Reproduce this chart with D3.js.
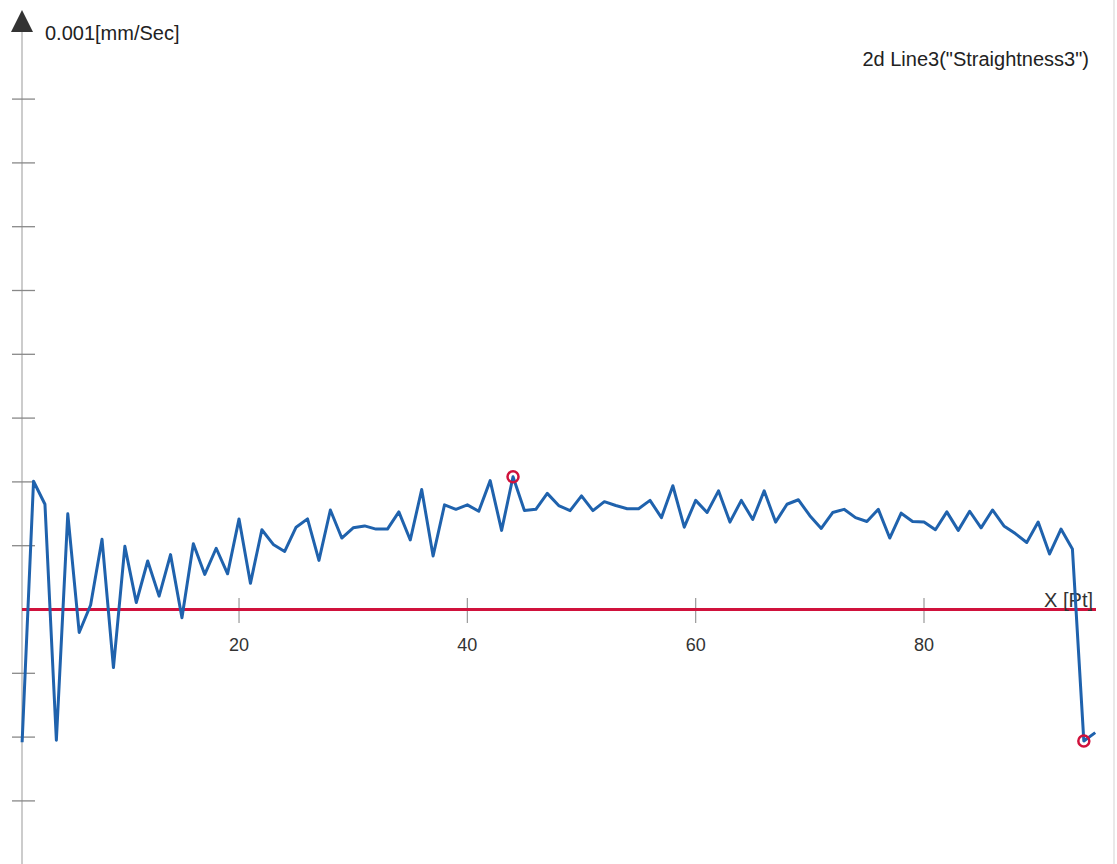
<!DOCTYPE html>
<html>
<head>
<meta charset="utf-8">
<script src="https://cdn.jsdelivr.net/npm/d3@7"></script>
<style>
  html, body { margin: 0; padding: 0; background: #fff; }
  svg { display: block; font-family: "Liberation Sans", Arial, sans-serif; }
</style>
</head>
<body>
<div id="chart"></div>
<script>
// Straightness3 profile, in y-tick units (one tick step per unit)
const straightness = [
  -2.08, 2.01, 1.65, -2.05, 1.50, -0.36, 0.07, 1.10, -0.91, 0.99,
  0.11, 0.76, 0.21, 0.86, -0.13, 1.03, 0.55, 0.96, 0.56, 1.42,
  0.41, 1.25, 1.02, 0.91, 1.29, 1.42, 0.77, 1.56, 1.12, 1.28,
  1.31, 1.26, 1.26, 1.53, 1.09, 1.88, 0.84, 1.64, 1.57, 1.64,
  1.54, 2.02, 1.24, 2.08, 1.55, 1.57, 1.82, 1.63, 1.55, 1.78,
  1.55, 1.69, 1.63, 1.58, 1.58, 1.71, 1.44, 1.94, 1.29, 1.71,
  1.52, 1.86, 1.37, 1.71, 1.41, 1.86, 1.37, 1.65, 1.72, 1.47,
  1.27, 1.52, 1.57, 1.44, 1.38, 1.57, 1.12, 1.51, 1.38, 1.37,
  1.25, 1.53, 1.24, 1.54, 1.28, 1.56, 1.31, 1.19, 1.05, 1.37,
  0.87, 1.26, 0.95, -2.06, -1.93
];
const pointIndex = d3.range(1, straightness.length + 1);
const markedPoints = [44, 94];           // max / min markers
const xTicks = [20, 40, 60, 80];
const yTicks = [-4, -3, -2, -1, 1, 2, 3, 4, 5, 6, 7, 8];

const width = 1117;
const height = 864;
const axisX = 22;

const svg = d3.select("#chart").append("svg")
  .attr("width", width)
  .attr("height", height);

const x = d3.scaleLinear().domain([0, 80]).range([10.7, 924]);
const y = d3.scaleLinear().domain([0, 8]).range([609.5, 99.1]);

// faint scan edge on the right
svg.append("line")
  .attr("x1", 1114).attr("x2", 1114)
  .attr("y1", 0).attr("y2", height)
  .attr("stroke", "#e2e2e2").attr("stroke-width", 1.5);

// y axis line + arrow
svg.append("line")
  .attr("x1", axisX).attr("x2", axisX)
  .attr("y1", 30).attr("y2", height)
  .attr("stroke", "#aaa").attr("stroke-width", 1.2);

svg.append("path")
  .attr("d", `M${axisX},10 L${axisX - 11},32 L${axisX + 11},32 Z`)
  .attr("fill", "#333");

svg.append("g")
  .selectAll("line")
  .data(yTicks)
  .join("line")
  .attr("x1", 12).attr("x2", 35)
  .attr("y1", d => y(d)).attr("y2", d => y(d))
  .attr("stroke", "#888").attr("stroke-width", 1.3);

svg.append("text")
  .attr("x", 45).attr("y", 39.5)
  .attr("fill", "#222")
  .style("font-size", "20px")
  .text("0.001[mm/Sec]");

// x ticks and labels
svg.append("g")
  .selectAll("line")
  .data(xTicks)
  .join("line")
  .attr("x1", d => x(d)).attr("x2", d => x(d))
  .attr("y1", 598).attr("y2", 623)
  .attr("stroke", "#999").attr("stroke-width", 1.2);

svg.append("g")
  .selectAll("text")
  .data(xTicks)
  .join("text")
  .attr("x", d => x(d))
  .attr("y", 651)
  .attr("text-anchor", "middle")
  .attr("fill", "#333")
  .style("font-size", "18px")
  .text(d => d);

// zero line
svg.append("line")
  .attr("x1", axisX).attr("x2", 1096)
  .attr("y1", y(0)).attr("y2", y(0))
  .attr("stroke", "#d0123c").attr("stroke-width", 3);

svg.append("text")
  .attr("x", 1093).attr("y", 606.5)
  .attr("text-anchor", "end")
  .attr("fill", "#333")
  .style("font-size", "20px")
  .text("X [Pt]");

// title
svg.append("text")
  .attr("x", 1089).attr("y", 66)
  .attr("text-anchor", "end")
  .attr("fill", "#222")
  .style("font-size", "20px")
  .text('2d Line3("Straightness3")');

// profile line
const line = d3.line()
  .x((d, i) => x(pointIndex[i]))
  .y(d => y(d));

svg.append("path")
  .datum(straightness)
  .attr("fill", "none")
  .attr("stroke", "#1f62ad")
  .attr("stroke-width", 3)
  .attr("stroke-linejoin", "round")
  .attr("d", line);

// min / max markers
svg.append("g")
  .selectAll("circle")
  .data(markedPoints)
  .join("circle")
  .attr("cx", d => x(d))
  .attr("cy", d => y(straightness[d - 1]))
  .attr("r", 5.5)
  .attr("fill", "none")
  .attr("stroke", "#d0123c")
  .attr("stroke-width", 2.5);
</script>
</body>
</html>
